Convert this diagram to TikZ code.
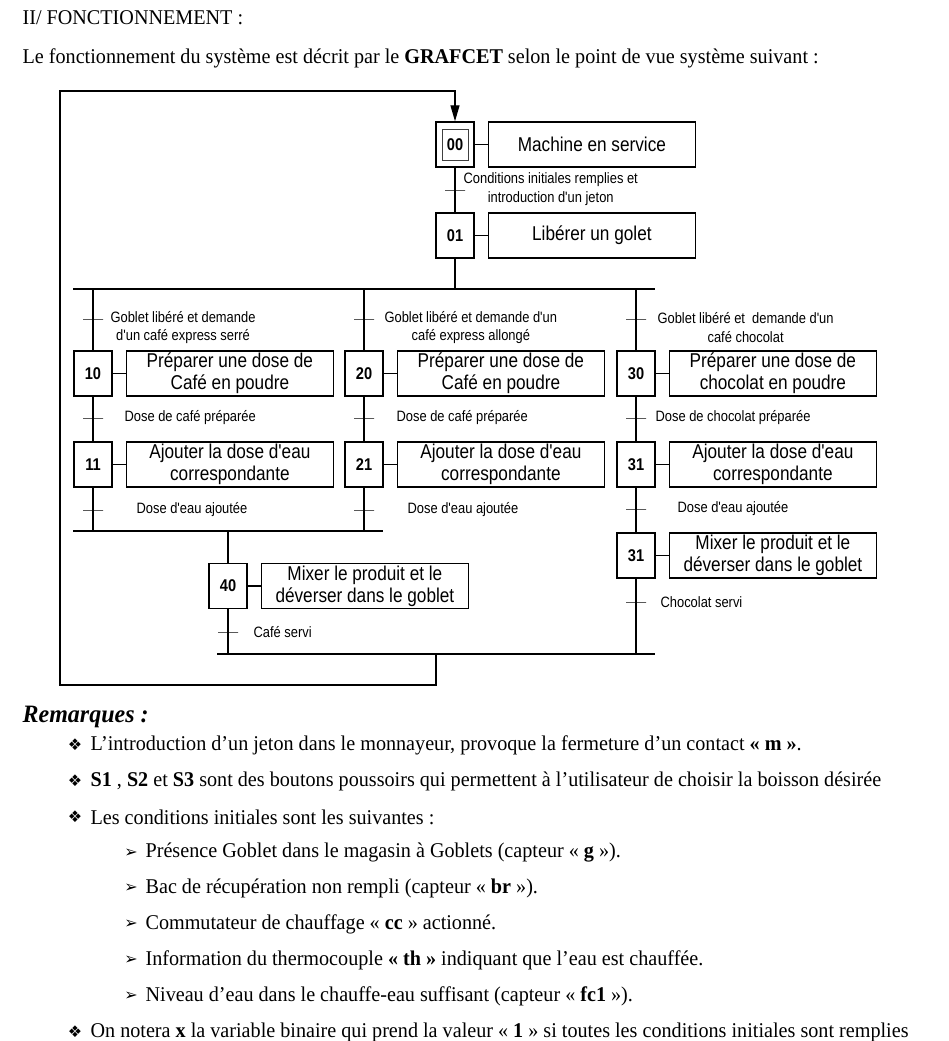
\documentclass[tikz,border=0pt]{standalone}
\usepackage{fontspec}
\setmainfont{Liberation Serif}[FakeStretch=0.96]
\newfontfamily\grafont{Liberation Sans}[FakeStretch=0.86]
\newfontfamily\symfont{DejaVu Sans}
\usepackage{tikz}
\usetikzlibrary{positioning}
\usetikzlibrary{arrows.meta}
\tikzset{
  etape/.style = {draw=black, line width=1.4pt, minimum width=38pt, minimum height=45pt,
    inner sep=0pt, font=\grafont\bfseries\fontsize{17}{17}\selectfont},
  ietape/.style = {etape, draw=black!75, line width=0.8pt, minimum width=26pt, minimum height=31pt},% etape initiale
  action/.style = {draw=black, line width=1.4pt, minimum width=207pt, minimum height=45pt,
    inner sep=0pt, align=center, font=\grafont\fontsize{20}{22}\selectfont},
  recept/.style = {draw=black, line width=1pt, minimum width=20pt, minimum height=0pt,
    inner sep=0pt, outer sep=0pt},
  cond/.style = {anchor=west, inner sep=0pt, align=center, font=\grafont\fontsize{15}{18.5}\selectfont},
  texte/.style = {anchor=west, inner sep=0pt, font=\fontsize{21}{24}\selectfont},
  puce/.style = {inner sep=0pt, font=\symfont\fontsize{16}{16}\selectfont},
}
\begin{document}
\begin{tikzpicture}[x=1pt,y=-1pt,>={Triangle[length=16pt,width=9pt]},line width=1.2pt]
\fill[white] (0,0) rectangle (949,1041);
\useasboundingbox (0,0) rectangle (949,1041);
% texte
\node[texte] (titre) at (22,18) {II/ FONCTIONNEMENT :};
\node[texte] (intro) at (22,58) {Le fonctionnement du système est décrit par le \textbf{GRAFCET} selon le point de vue système suivant :};
% etapes
\node [etape] (e00) at (455,144.5) {};
\node [ietape] (n00) at (e00.center) {00};
\node [etape] (e01) at (455,235.5) {01};
\node [etape] (e10) at (93,373.5) {10};
\node [etape] (e11) at (93,464.5) {11};
\node [etape] (e20) at (364,373.5) {20};
\node [etape] (e21) at (364,464.5) {21};
\node [etape] (e30) at (636,373.5) {30};
\node [etape] (e31) at (636,464.5) {31};
\node [etape] (e32) at (636,555.5) {31};
\node [etape] (e40) at (228,586) {40};
% actions
\node [action, right=13pt of e00] (a00) {Machine en service};
\node [action, right=13pt of e01] (a01) {Libérer un golet\vphantom{M}};
\node [action, right=13pt of e10] (a10) {Préparer une dose de\\Café en poudre};
\node [action, right=13pt of e11] (a11) {Ajouter la dose d'eau\\correspondante};
\node [action, right=13pt of e20] (a20) {Préparer une dose de\\Café en poudre};
\node [action, right=13pt of e21] (a21) {Ajouter la dose d'eau\\correspondante};
\node [action, right=13pt of e30] (a30) {Préparer une dose de\\chocolat en poudre};
\node [action, right=13pt of e31] (a31) {Ajouter la dose d'eau\\correspondante};
\node [action, right=13pt of e32] (a32) {Mixer le produit et le\\déverser dans le goblet};
\node [action, right=13pt of e40] (a40) {Mixer le produit et le\\déverser dans le goblet};
\foreach \e in {00,01,10,11,20,21,30,31,32,40}
  \draw (e\e) -- (a\e);
% barres
\coordinate (div) at (73,289);  \coordinate (divr) at (655,289);
\coordinate (conv) at (73,531); \coordinate (convr) at (383,531);
\coordinate (fin) at (217,654); \coordinate (finr) at (655,654);
\coordinate (ret) at (436,654); \coordinate (bas) at (60,685); \coordinate (haut) at (60,91);
\draw (div) -- (divr);
\draw [line width=1.6pt] (conv) -- (convr);
\draw (fin) -- (finr);
% liaisons
\draw (e00) -- (e01);
\draw (e01) -- (e01 |- div);
\draw (e10 |- div) -- (e10);
\draw (e10) -- (e11);
\draw (e11) -- (e11 |- conv);
\draw (e20 |- div) -- (e20);
\draw (e20) -- (e21);
\draw (e21) -- (e21 |- conv);
\draw (e30 |- div) -- (e30);
\draw (e30) -- (e31);
\draw (e31) -- (e32);
\draw (e32) -- (e32 |- fin);
\draw (e40 |- conv) -- (e40);
\draw (e40) -- (e40 |- fin);
\draw [->] (ret) |- (bas) -- (haut) -| (e00);
% receptivites
\node [recept] (t00) at (455,190) {};
\node [recept] (t10) at (93,319) {};
\node [recept] (t20) at (364,319) {};
\node [recept] (t30) at (636,319) {};
\node [recept] (t11) at (93,418) {};
\node [recept] (t21) at (364,418) {};
\node [recept] (t31) at (636,418) {};
\node [recept] (t12) at (93,510) {};
\node [recept] (t22) at (364,510) {};
\node [recept] (t32) at (636,509) {};
\node [recept] (t33) at (636,602) {};
\node [recept] (t40) at (228,632) {};
\node [cond] (c00) at (463,189) {Conditions initiales remplies et\\introduction d'un jeton};
\node [cond] (c10) at (110,327.5) {Goblet libéré et demande\\d'un café express serré};
\node [cond] (c20) at (384,327.5) {Goblet libéré et demande d'un\\café express allongé};
\node [cond] (c30) at (657,327.5) {Goblet libéré et~ demande d'un\\café chocolat};
\node [cond] (c11) at (124,418) {Dose de café préparée};
\node [cond] (c21) at (396,418) {Dose de café préparée};
\node [cond] (c31) at (655,418) {Dose de chocolat préparée};
\node [cond] (c12) at (136,510) {Dose d'eau ajoutée};
\node [cond] (c22) at (407,510) {Dose d'eau ajoutée};
\node [cond] (c32) at (677,509) {Dose d'eau ajoutée};
\node [cond] (c33) at (660,602) {Chocolat servi};
\node [cond] (c40) at (253,632) {Café servi};
% remarques
\node [texte, font=\bfseries\itshape\fontsize{25}{27}\selectfont] (rem) at (22,717) {Remarques :};
\node [puce] (p1) at (75,745) {❖};
\node [texte] (r1) at (90,745) {L’introduction d’un jeton dans le monnayeur, provoque la fermeture d’un contact \textbf{« m »}.};
\node [puce] (p2) at (75,781) {❖};
\node [texte] (r2) at (90,781) {\textbf{S1} , \textbf{S2} et \textbf{S3} sont des boutons poussoirs qui permettent à l’utilisateur de choisir la boisson désirée};
\node [puce] (p3) at (75,817) {❖};
\node [texte] (r3) at (90,817) {Les conditions initiales sont les suivantes :};
\node [puce] (p4) at (131,853) {➢};
\node [texte] (r4) at (145,853) {Présence Goblet dans le magasin à Goblets (capteur « \textbf{g} »).};
\node [puce] (p5) at (131,888) {➢};
\node [texte] (r5) at (145,888) {Bac de récupération non rempli (capteur « \textbf{br} »).};
\node [puce] (p6) at (131,924) {➢};
\node [texte] (r6) at (145,924) {Commutateur de chauffage « \textbf{cc} » actionné.};
\node [puce] (p7) at (131,960) {➢};
\node [texte] (r7) at (145,960) {Information du thermocouple \textbf{« th »} indiquant que l’eau est chauffée.};
\node [puce] (p8) at (131,996) {➢};
\node [texte] (r8) at (145,996) {Niveau d’eau dans le chauffe-eau suffisant (capteur « \textbf{fc1} »).};
\node [puce] (p9) at (75,1032) {❖};
\node [texte] (r9) at (90,1032) {On notera \textbf{x} la variable binaire qui prend la valeur « \textbf{1} » si toutes les conditions initiales sont remplies};
\end{tikzpicture}
\end{document}
